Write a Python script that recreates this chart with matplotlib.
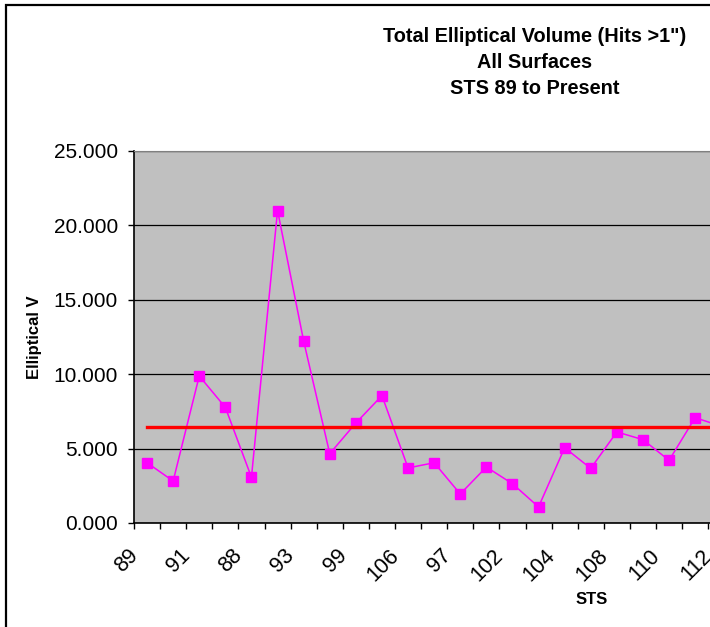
import matplotlib
matplotlib.use("Agg")
import matplotlib.pyplot as plt
import matplotlib.transforms as mtransforms
from matplotlib.patches import Rectangle

plt.rcParams["font.family"] = ["Liberation Sans", "DejaVu Sans"]

# STS missions in launch order, volume
sts = ["89", "90", "91", "95", "88", "96", "93", "103", "99", "101", "106", "92",
       "97", "98", "102", "100", "104", "105", "108", "109", "110", "111", "112"]
volume = [4.05, 2.82, 9.88, 7.77, 3.07, 21.00, 12.23, 4.66, 6.72, 8.56, 3.70, 4.05,
          1.95, 3.76, 2.64, 1.08, 5.06, 3.67, 6.12, 5.60, 4.21, 7.08, 6.50]
average = 6.43

W, H = 710, 627
fig = plt.figure(figsize=(W / 100, H / 100), dpi=100)

# outer chart border (cut off on right and bottom like the original)
fig.patches.append(Rectangle((6 / W, -0.1), 1.2, (H - 5) / H + 0.1,
                             transform=fig.transFigure, fill=False,
                             edgecolor="black", linewidth=1.6))

n = len(sts)
ax = fig.add_axes([134 / W, (H - 523) / H, n * 26.1 / W, (523 - 151) / H])
ax.set_facecolor("#C0C0C0")

x = list(range(n))
ax.plot(x, volume, color="#FF00FF", linewidth=1.1, marker="s",
        markersize=6.5, markeredgecolor="#FF00FF", zorder=3)
ax.plot(x, [average] * n, color="#FF0000", linewidth=2.4, zorder=4)

ax.set_xlim(-0.5, n - 0.5)
ax.set_ylim(0, 25)
ax.set_yticks([0, 5, 10, 15, 20, 25])
ax.set_yticklabels([f"{v:.3f}" for v in [0, 5, 10, 15, 20, 25]])
ax.yaxis.grid(True, color="black", linewidth=0.9)
ax.set_axisbelow(True)

ax.set_xticks(x)
ax.set_xticklabels([s if i % 2 == 0 else "" for i, s in enumerate(sts)],
                   rotation=45, ha="right", va="top")
ax.set_xticks([i - 0.5 for i in range(n + 1)], minor=True)
ax.tick_params(axis="x", which="major", length=0, pad=16, labelsize=15.5)
ax.tick_params(axis="x", which="minor", length=4.5, width=1, color="black")
ax.tick_params(axis="y", length=4.5, width=1, pad=7, labelsize=15)

offset = mtransforms.ScaledTranslation(-5 / 100, 0, fig.dpi_scale_trans)
for label in ax.xaxis.get_majorticklabels():
    label.set_transform(label.get_transform() + offset)

for side in ["left", "bottom"]:
    ax.spines[side].set_color("black")
    ax.spines[side].set_linewidth(1.2)
ax.spines["top"].set_color("#808080")
ax.spines["right"].set_visible(False)

ax.set_ylabel("Elliptical V", fontsize=12, fontweight="bold")
ax.yaxis.set_label_coords((42 - 134) / (n * 26.1), 0.5)
fig.text(592 / W, 1 - 599 / H, "STS", fontsize=12, fontweight="bold",
         ha="center", va="center")

title_lines = ["Total Elliptical Volume (Hits >1\")", "All Surfaces", "STS 89 to Present"]
for i, line in enumerate(title_lines):
    fig.text(535 / W, 1 - (37 + 26 * i) / H, line, fontsize=14.3,
             fontweight="bold", ha="center", va="center")

fig.savefig("out.png", dpi=100)
